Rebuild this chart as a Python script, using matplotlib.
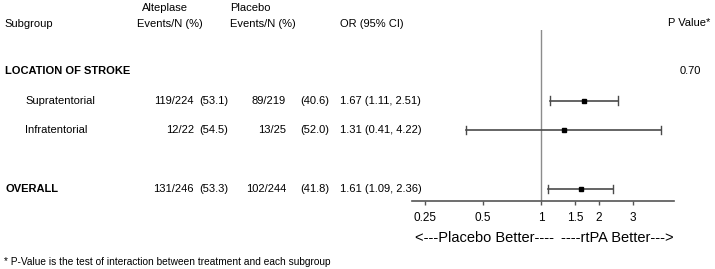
import numpy as np
import matplotlib.pyplot as plt
from matplotlib import transforms

plt.rcParams['font.family'] = ['Liberation Sans', 'DejaVu Sans']

# --- datos ---
subgrupos = ['LOCATION OF STROKE', 'Supratentorial', 'Infratentorial', '', 'OVERALL']
negrita = [True, False, False, False, True]
alt_eventos = ['', '119/224', '12/22', '', '131/246']
alt_pct = ['', '(53.1)', '(54.5)', '', '(53.3)']
pla_eventos = ['', '89/219', '13/25', '', '102/244']
pla_pct = ['', '(40.6)', '(52.0)', '', '(41.8)']
or_txt = ['', '1.67 (1.11, 2.51)', '1.31 (0.41, 4.22)', '', '1.61 (1.09, 2.36)']
or_val = [np.nan, 1.67, 1.31, np.nan, 1.61]
ci_low = [np.nan, 1.11, 0.41, np.nan, 1.09]
ci_high = [np.nan, 2.51, 4.22, np.nan, 2.36]
p_valor = ['0.70', '', '', '', '']
ticks = [0.25, 0.5, 1, 1.5, 2, 3]
tick_labels = ['0.25', '0.5', '1', '1.5', '2', '3']

W, H = 715, 269
fig = plt.figure(figsize=(W / 100, H / 100), dpi=100)

def fx(px):
    return px / W

def fy(py):
    return 1 - py / H

# eje del forest plot (en pixeles)
x0, x1, y0, y1 = 412, 674, 30, 200.7
ax = fig.add_axes([fx(x0), fy(y1), fx(x1 - x0), (y1 - y0) / H])
ax.set_xscale('log')
ax.set_xlim(0.214, 4.9)
fila0, paso = 71, 29.5
ax.set_ylim((y1 - fila0) / paso, (y0 - fila0) / paso)

filas = np.arange(len(subgrupos))
ax.axvline(1, color='#8c8c8c', lw=1.0, zorder=1)
for i in filas:
    if np.isnan(or_val[i]):
        continue
    ax.plot([ci_low[i], ci_high[i]], [i, i], color='#4a4a4a', lw=1.2, zorder=2)
    for c in (ci_low[i], ci_high[i]):
        ax.plot([c, c], [i - 0.14, i + 0.14], color='#4a4a4a', lw=1.0, zorder=2)
    ax.plot(or_val[i], i, 's', color='black', ms=3.5, zorder=3)

for s in ['top', 'right', 'left']:
    ax.spines[s].set_visible(False)
ax.spines['bottom'].set_color('#555555')
ax.spines['bottom'].set_linewidth(1.2)
ax.set_yticks([])
ax.set_xticks(ticks)
ax.set_xticklabels(tick_labels)
ax.minorticks_off()
ax.tick_params(axis='x', length=3, width=1, color='#555555', pad=5, labelsize=8.5)

# --- textos ---
fs = 8
tr = transforms.blended_transform_factory(fig.transFigure, ax.transData)
for i in filas:
    xs = fx(5) if negrita[i] else fx(25)
    ax.text(xs, i, subgrupos[i], transform=tr, fontsize=fs, va='center',
            fontweight='bold' if negrita[i] else 'normal', clip_on=False)
    ax.text(fx(194), i, alt_eventos[i], transform=tr, fontsize=fs, va='center', ha='right')
    ax.text(fx(199), i, alt_pct[i], transform=tr, fontsize=fs, va='center')
    ax.text(fx(286), i, pla_eventos[i], transform=tr, fontsize=fs, va='center', ha='right')
    ax.text(fx(300), i, pla_pct[i], transform=tr, fontsize=fs, va='center')
    ax.text(fx(340), i, or_txt[i], transform=tr, fontsize=fs, va='center')
    ax.text(fx(680), i, p_valor[i], transform=tr, fontsize=fs, va='center')

fig.text(fx(4), fy(24), 'Subgroup', fontsize=fs, va='center')
fig.text(fx(142), fy(8), 'Alteplase', fontsize=fs, va='center')
fig.text(fx(137), fy(24), 'Events/N (%)', fontsize=fs, va='center')
fig.text(fx(230), fy(8), 'Placebo', fontsize=fs, va='center')
fig.text(fx(230), fy(24), 'Events/N (%)', fontsize=fs, va='center')
fig.text(fx(340), fy(24), 'OR (95% CI)', fontsize=fs, va='center')
fig.text(fx(668), fy(23), 'P Value*', fontsize=fs, va='center')

fig.text(fx(415), fy(238), '<---Placebo Better----', fontsize=10.5, va='center')
fig.text(fx(561), fy(238), '----rtPA Better--->', fontsize=10.5, va='center')

fig.text(fx(4), fy(262), '* P-Value is the test of interaction between treatment and each subgroup',
         fontsize=7.3, va='center')

fig.savefig('out.png', dpi=100)
